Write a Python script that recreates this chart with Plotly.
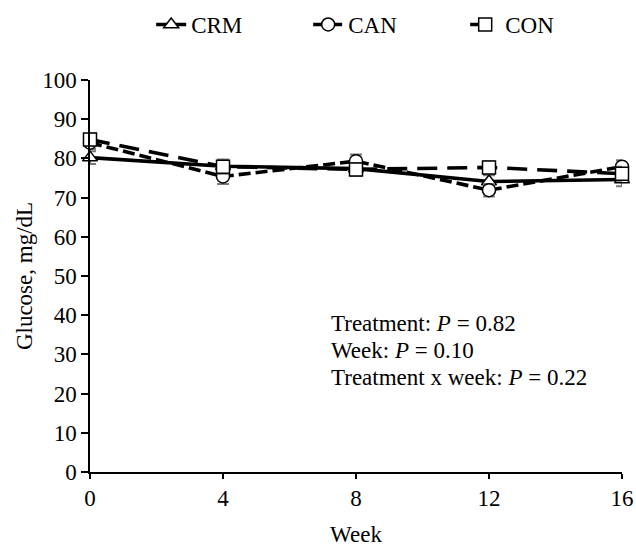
import plotly.graph_objects as go

weeks = [0, 4, 8, 12, 16]
crm = [80.2, 78.0, 77.4, 74.1, 74.6]
can = [84.0, 75.4, 79.3, 71.9, 77.9]
con = [84.8, 77.9, 77.2, 77.7, 76.1]
crm_se = [1.6, 1.6, 1.5, 1.6, 1.7]
can_se = [1.6, 1.9, 1.7, 1.6, 1.6]
con_se = [1.6, 1.8, 1.6, 1.6, 1.8]
stats_lines = ["Treatment: <i>P</i> = 0.82", "Week: <i>P</i> = 0.10", "Treatment x week: <i>P</i> = 0.22"]
stats_y = [37.8, 31.1, 24.1]
stats_x = 7.2

FONT = "Liberation Serif, Times New Roman, serif"
FS = 23

fig = go.Figure()
series = [
    ("CRM", crm, crm_se, "triangle-up", "solid"),
    ("CAN", can, can_se, "circle", "12px,5px"),
    ("CON", con, con_se, "square", "20px,10px"),
]
for name, vals, se, sym, dash in series:
    fig.add_trace(go.Scatter(
        x=weeks, y=vals, name=name, mode="lines+markers",
        line=dict(color="black", width=3.6, dash=dash),
        marker=dict(symbol=sym, size=13, color="white", line=dict(color="black", width=1.5)),
        error_y=dict(type="data", array=se, color="#7a7a7a", thickness=2, width=6),
        cliponaxis=False,
    ))

for txt, yy in zip(stats_lines, stats_y):
    fig.add_annotation(
        x=stats_x, y=yy, xref="x", yref="y", xanchor="left", yanchor="middle",
        text=txt, showarrow=False, align="left",
        font=dict(family=FONT, size=FS, color="black"),
    )

fig.update_layout(
    width=636, height=549,
    paper_bgcolor="white", plot_bgcolor="white",
    margin=dict(l=90, r=14, t=80, b=77),
    font=dict(family=FONT, size=FS, color="black"),
    showlegend=True,
    legend=dict(orientation="h", x=0.115, xanchor="left", y=1 - 24.5 / 549, yanchor="middle",
                yref="container", font=dict(family=FONT, size=FS), traceorder="normal",
                entrywidth=112, entrywidthmode="pixels",
                bgcolor="rgba(0,0,0,0)"),
    xaxis=dict(range=[0, 16], tickvals=weeks, showline=True, linecolor="black", linewidth=1.5,
               ticks="outside", ticklen=5, tickwidth=1.5, tickcolor="black", showgrid=False, zeroline=False,
               tickfont=dict(family=FONT, size=FS), automargin=False,
               title=dict(text="Week", font=dict(family=FONT, size=FS), standoff=16)),
    yaxis=dict(range=[0, 100], dtick=10, showline=True, linecolor="black", linewidth=1.5,
               ticks="outside", ticklen=7, tickwidth=1.5, tickcolor="black", showgrid=False, zeroline=False,
               tickfont=dict(family=FONT, size=FS), automargin=False,
               title=dict(text="Glucose, mg/dL", font=dict(family=FONT, size=FS), standoff=3)),
)
fig.write_html("out.html", config={"displayModeBar": False},
               post_script="document.body.style.margin='0';document.body.style.overflow='hidden';")
